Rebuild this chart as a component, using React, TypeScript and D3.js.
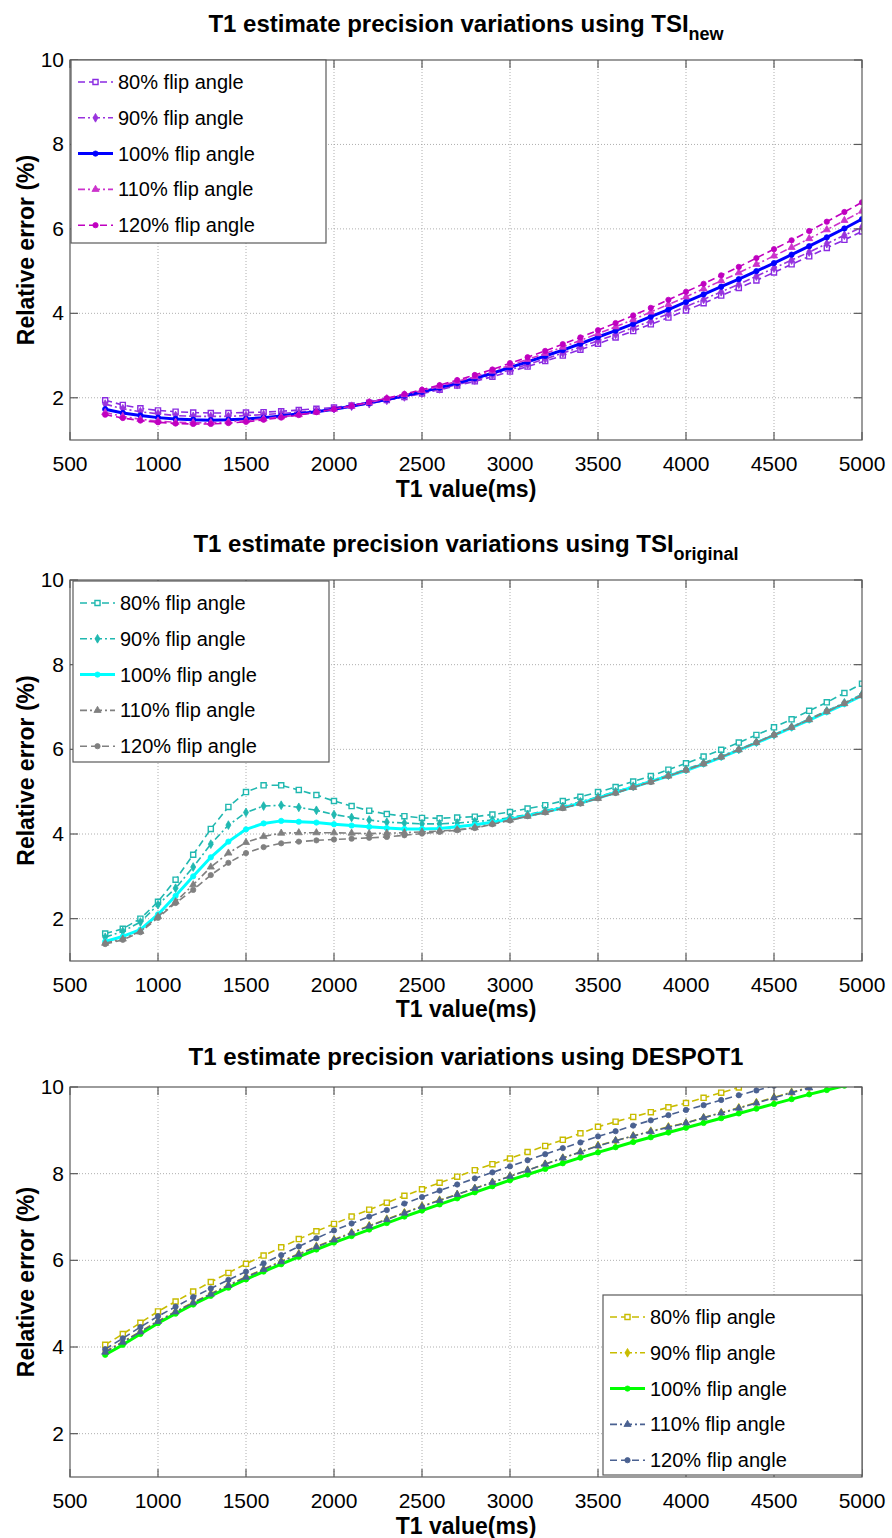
import React from "react";
import * as d3 from "d3";

// T1 values (ms), one point every 100 ms
const t1Values = [
  700, 800, 900, 1000, 1100, 1200, 1300, 1400, 1500, 1600, 1700, 1800, 1900, 2000, 2100,
  2200, 2300, 2400, 2500, 2600, 2700, 2800, 2900, 3000, 3100, 3200, 3300, 3400, 3500, 3600,
  3700, 3800, 3900, 4000, 4100, 4200, 4300, 4400, 4500, 4600, 4700, 4800, 4900, 5000,
];

const seriesLabels = ["80% flip angle", "90% flip angle", "100% flip angle", "110% flip angle", "120% flip angle"];
const xTicks = [500, 1000, 1500, 2000, 2500, 3000, 3500, 4000, 4500, 5000];
const yTicks = [2, 4, 6, 8, 10];

// TSI new
const new80 = [1.94, 1.83, 1.75, 1.7, 1.67, 1.65, 1.64, 1.64, 1.65, 1.66, 1.68, 1.71, 1.74, 1.77, 1.82, 1.88, 1.95, 2.02, 2.1, 2.19, 2.29, 2.39, 2.5, 2.62, 2.74, 2.87, 3.0, 3.14, 3.28, 3.43, 3.58, 3.74, 3.9, 4.07, 4.24, 4.42, 4.6, 4.78, 4.97, 5.16, 5.35, 5.55, 5.74, 5.94];
const new90 = [1.85, 1.74, 1.67, 1.62, 1.58, 1.56, 1.56, 1.56, 1.58, 1.6, 1.63, 1.66, 1.7, 1.74, 1.8, 1.86, 1.94, 2.02, 2.11, 2.21, 2.31, 2.42, 2.54, 2.66, 2.79, 2.92, 3.06, 3.2, 3.35, 3.5, 3.66, 3.82, 3.99, 4.16, 4.33, 4.51, 4.69, 4.88, 5.07, 5.26, 5.45, 5.65, 5.85, 6.04];
const new100 = [1.73, 1.64, 1.58, 1.53, 1.5, 1.48, 1.47, 1.48, 1.5, 1.53, 1.57, 1.62, 1.67, 1.73, 1.8, 1.88, 1.96, 2.05, 2.14, 2.24, 2.35, 2.46, 2.58, 2.72, 2.85, 2.99, 3.13, 3.28, 3.44, 3.59, 3.75, 3.92, 4.09, 4.27, 4.45, 4.63, 4.81, 5.0, 5.19, 5.39, 5.59, 5.8, 6.01, 6.23];
const new110 = [1.65, 1.56, 1.49, 1.45, 1.42, 1.41, 1.41, 1.43, 1.46, 1.5, 1.55, 1.6, 1.66, 1.73, 1.8, 1.89, 1.98, 2.07, 2.17, 2.27, 2.39, 2.5, 2.63, 2.77, 2.91, 3.05, 3.2, 3.36, 3.52, 3.68, 3.85, 4.03, 4.21, 4.39, 4.58, 4.77, 4.96, 5.16, 5.36, 5.56, 5.77, 5.98, 6.2, 6.42];
const new120 = [1.6, 1.52, 1.46, 1.42, 1.39, 1.38, 1.38, 1.4, 1.43, 1.48, 1.53, 1.59, 1.66, 1.73, 1.81, 1.9, 1.99, 2.09, 2.19, 2.3, 2.42, 2.54, 2.67, 2.82, 2.96, 3.11, 3.27, 3.43, 3.6, 3.77, 3.95, 4.13, 4.32, 4.51, 4.7, 4.9, 5.1, 5.31, 5.52, 5.73, 5.95, 6.17, 6.4, 6.63];

// TSI original
const orig80 = [1.65, 1.76, 2.0, 2.4, 2.92, 3.51, 4.12, 4.64, 4.99, 5.15, 5.15, 5.04, 4.92, 4.78, 4.66, 4.55, 4.47, 4.42, 4.38, 4.37, 4.39, 4.41, 4.46, 4.52, 4.6, 4.68, 4.78, 4.88, 4.99, 5.11, 5.24, 5.37, 5.52, 5.67, 5.83, 5.99, 6.16, 6.34, 6.52, 6.71, 6.91, 7.11, 7.33, 7.55];
const orig90 = [1.56, 1.7, 1.92, 2.33, 2.72, 3.22, 3.76, 4.21, 4.51, 4.66, 4.68, 4.63, 4.56, 4.46, 4.39, 4.33, 4.28, 4.26, 4.24, 4.24, 4.26, 4.29, 4.33, 4.39, 4.46, 4.55, 4.65, 4.76, 4.88, 5.0, 5.13, 5.26, 5.39, 5.53, 5.68, 5.84, 6.0, 6.17, 6.35, 6.53, 6.72, 6.91, 7.1, 7.3];
const orig100 = [1.46, 1.58, 1.74, 2.1, 2.54, 3.0, 3.45, 3.82, 4.11, 4.25, 4.31, 4.29, 4.27, 4.23, 4.2, 4.17, 4.14, 4.12, 4.12, 4.13, 4.17, 4.22, 4.28, 4.35, 4.43, 4.52, 4.62, 4.73, 4.85, 4.98, 5.11, 5.24, 5.37, 5.5, 5.65, 5.81, 5.98, 6.15, 6.33, 6.51, 6.69, 6.88, 7.07, 7.27];
const orig110 = [1.42, 1.52, 1.7, 2.05, 2.4, 2.8, 3.22, 3.55, 3.8, 3.94, 4.02, 4.03, 4.03, 4.03, 4.02, 4.01, 4.02, 4.03, 4.05, 4.07, 4.1, 4.15, 4.24, 4.33, 4.42, 4.51, 4.61, 4.72, 4.84, 4.97, 5.1, 5.23, 5.37, 5.51, 5.66, 5.82, 5.99, 6.16, 6.34, 6.52, 6.7, 6.89, 7.08, 7.27];
const orig120 = [1.4, 1.5, 1.68, 2.02, 2.37, 2.68, 3.03, 3.32, 3.55, 3.69, 3.78, 3.82, 3.85, 3.87, 3.89, 3.91, 3.93, 3.97, 4.01, 4.05, 4.09, 4.14, 4.23, 4.32, 4.42, 4.51, 4.61, 4.72, 4.84, 4.97, 5.1, 5.23, 5.37, 5.51, 5.66, 5.82, 5.99, 6.16, 6.34, 6.52, 6.71, 6.9, 7.09, 7.28];

// DESPOT1 (curves leave the axes at 10)
const despot80 = [4.05, 4.3, 4.56, 4.82, 5.05, 5.28, 5.5, 5.71, 5.92, 6.11, 6.3, 6.49, 6.67, 6.84, 7.01, 7.17, 7.33, 7.49, 7.64, 7.79, 7.93, 8.08, 8.22, 8.35, 8.5, 8.64, 8.78, 8.93, 9.08, 9.2, 9.31, 9.42, 9.53, 9.63, 9.75, 9.87, 9.99, 10.11];
const despot90 = [3.9, 4.12, 4.36, 4.6, 4.82, 5.03, 5.23, 5.43, 5.62, 5.8, 5.98, 6.15, 6.32, 6.48, 6.64, 6.8, 6.95, 7.1, 7.25, 7.39, 7.52, 7.66, 7.8, 7.94, 8.08, 8.22, 8.36, 8.5, 8.65, 8.76, 8.87, 8.98, 9.08, 9.17, 9.29, 9.41, 9.52, 9.64, 9.76, 9.88, 9.99, 10.1];
const despot100 = [3.82, 4.05, 4.3, 4.55, 4.77, 4.98, 5.18, 5.37, 5.56, 5.74, 5.91, 6.08, 6.25, 6.41, 6.56, 6.71, 6.86, 7.01, 7.15, 7.29, 7.43, 7.57, 7.71, 7.85, 7.98, 8.11, 8.24, 8.37, 8.49, 8.61, 8.73, 8.84, 8.95, 9.06, 9.17, 9.28, 9.39, 9.5, 9.61, 9.72, 9.83, 9.93, 10.03];
const despot110 = [3.88, 4.11, 4.35, 4.59, 4.81, 5.02, 5.22, 5.42, 5.61, 5.79, 5.97, 6.14, 6.31, 6.47, 6.63, 6.79, 6.94, 7.09, 7.24, 7.38, 7.52, 7.66, 7.8, 7.94, 8.08, 8.22, 8.36, 8.5, 8.64, 8.76, 8.87, 8.97, 9.07, 9.17, 9.29, 9.4, 9.51, 9.63, 9.75, 9.87, 9.98, 10.09];
const despot120 = [3.95, 4.2, 4.46, 4.71, 4.93, 5.15, 5.35, 5.55, 5.74, 5.93, 6.12, 6.32, 6.51, 6.69, 6.85, 7.01, 7.16, 7.31, 7.46, 7.61, 7.75, 7.89, 8.03, 8.17, 8.31, 8.45, 8.59, 8.72, 8.86, 8.98, 9.11, 9.23, 9.35, 9.47, 9.58, 9.7, 9.81, 9.92, 10.03];

const FONT = "'Liberation Sans', Arial, Helvetica, sans-serif";
const W = 892;
const H = 1538;

type Marker = "square" | "diamond" | "circle" | "triangle";
type Style = { color: string; dash: string; width: number; marker: Marker; open?: boolean };

const DASH = "7,4";
const DASHDOT = "7,3,2,3";

const panels = [
  {
    id: "p1",
    title: "T1 estimate precision variations using TSI",
    sub: "new",
    top: 60,
    bottom: 440,
    titleY: 32,
    xLabelY: 497,
    legend: { x: 71, y: 60, w: 255, h: 183 },
    data: [new80, new90, new100, new110, new120],
    styles: [
      { color: "#8a2be2", dash: DASH, width: 1.6, marker: "square", open: true },
      { color: "#9933dd", dash: DASHDOT, width: 1.6, marker: "diamond" },
      { color: "#0000ff", dash: "", width: 3, marker: "circle" },
      { color: "#cc33cc", dash: DASHDOT, width: 1.6, marker: "triangle" },
      { color: "#c000c0", dash: DASH, width: 1.6, marker: "circle" },
    ] as Style[],
  },
  {
    id: "p2",
    title: "T1 estimate precision variations using TSI",
    sub: "original",
    top: 580,
    bottom: 961,
    titleY: 552,
    xLabelY: 1017,
    legend: { x: 73, y: 581, w: 256, h: 181 },
    data: [orig80, orig90, orig100, orig110, orig120],
    styles: [
      { color: "#20b8b0", dash: DASH, width: 1.6, marker: "square", open: true },
      { color: "#20b8b0", dash: DASHDOT, width: 1.6, marker: "diamond" },
      { color: "#00ffff", dash: "", width: 3, marker: "circle" },
      { color: "#808080", dash: DASHDOT, width: 1.6, marker: "triangle" },
      { color: "#808080", dash: DASH, width: 1.6, marker: "circle" },
    ] as Style[],
  },
  {
    id: "p3",
    title: "T1 estimate precision variations using DESPOT1",
    sub: "",
    top: 1087,
    bottom: 1477,
    titleY: 1065,
    xLabelY: 1534,
    legend: { x: 603, y: 1295, w: 259, h: 180 },
    data: [despot80, despot90, despot100, despot110, despot120],
    styles: [
      { color: "#c8bc00", dash: DASH, width: 1.6, marker: "square", open: true },
      { color: "#c8bc00", dash: DASHDOT, width: 1.6, marker: "diamond" },
      { color: "#00ff00", dash: "", width: 3, marker: "circle" },
      { color: "#4a6191", dash: DASHDOT, width: 1.6, marker: "triangle" },
      { color: "#4a6191", dash: DASH, width: 1.6, marker: "circle" },
    ] as Style[],
  },
];

const symbolFor: Record<Marker, d3.SymbolType> = {
  square: d3.symbolSquare,
  diamond: d3.symbolDiamond,
  circle: d3.symbolCircle,
  triangle: d3.symbolTriangle,
};

const MarkerShape = ({ s, x, y }: { s: Style; x: number; y: number }) => {
  const size = s.marker === "square" ? 26 : 22;
  const path = d3.symbol().type(symbolFor[s.marker]).size(size)() as string;
  return (
    <path
      d={path}
      transform={`translate(${x},${y})`}
      fill={s.open ? "white" : s.color}
      stroke={s.color}
      strokeWidth={s.open ? 1.4 : 0.8}
    />
  );
};

const Panel = ({ p }: { p: (typeof panels)[number] }) => {
  const left = 70;
  const right = 862;
  const x = d3.scaleLinear().domain([500, 5000]).range([left, right]);
  const y = d3.scaleLinear().domain([1, 10]).range([p.bottom, p.top]);
  const line = d3
    .line<number>()
    .x((_, i) => x(t1Values[i]))
    .y((d) => y(d));
  const mid = (left + right) / 2;
  const axisColor = "#5a5a5a";

  return (
    <g>
      <defs>
        <clipPath id={`clip-${p.id}`}>
          <rect x={left} y={p.top} width={right - left} height={p.bottom - p.top} />
        </clipPath>
      </defs>
      <rect x={left} y={p.top} width={right - left} height={p.bottom - p.top} fill="white" />

      {/* grid */}
      {xTicks.slice(1, -1).map((t) => (
        <line key={`gx${t}`} x1={x(t)} x2={x(t)} y1={p.top} y2={p.bottom} stroke="#9a9a9a" strokeWidth={0.8} strokeDasharray="1,2" />
      ))}
      {yTicks.slice(0, -1).map((t) => (
        <line key={`gy${t}`} x1={left} x2={right} y1={y(t)} y2={y(t)} stroke="#9a9a9a" strokeWidth={0.8} strokeDasharray="1,2" />
      ))}

      {/* series */}
      <g clipPath={`url(#clip-${p.id})`}>
        {p.data.map((vals, si) => {
          const s = p.styles[si];
          return (
            <g key={si}>
              <path d={line(vals) as string} fill="none" stroke={s.color} strokeWidth={s.width} strokeDasharray={s.dash || undefined} strokeLinejoin="round" />
              {vals.map((v, i) => (
                <MarkerShape key={i} s={s} x={x(t1Values[i])} y={y(v)} />
              ))}
            </g>
          );
        })}
      </g>

      {/* box + ticks */}
      <rect x={left} y={p.top} width={right - left} height={p.bottom - p.top} fill="none" stroke={axisColor} strokeWidth={1.2} />
      {xTicks.map((t) => (
        <g key={`tx${t}`}>
          <line x1={x(t)} x2={x(t)} y1={p.bottom} y2={p.bottom - 8} stroke={axisColor} strokeWidth={1.2} />
          <line x1={x(t)} x2={x(t)} y1={p.top} y2={p.top + 8} stroke={axisColor} strokeWidth={1.2} />
          <text x={x(t)} y={p.bottom + 31} textAnchor="middle" fontSize={21} fontFamily={FONT} fill="#000">
            {t}
          </text>
        </g>
      ))}
      {yTicks.map((t) => (
        <g key={`ty${t}`}>
          <line x1={left} x2={left + 8} y1={y(t)} y2={y(t)} stroke={axisColor} strokeWidth={1.2} />
          <line x1={right} x2={right - 8} y1={y(t)} y2={y(t)} stroke={axisColor} strokeWidth={1.2} />
          <text x={64} y={y(t) + 7} textAnchor="end" fontSize={21} fontFamily={FONT} fill="#000">
            {t}
          </text>
        </g>
      ))}

      {/* titles */}
      <text x={mid} y={p.titleY} textAnchor="middle" fontSize={24} fontWeight="bold" fontFamily={FONT}>
        {p.title}
        {p.sub && (
          <tspan fontSize={18} dy={8}>
            {p.sub}
          </tspan>
        )}
      </text>
      <text x={mid} y={p.xLabelY} textAnchor="middle" fontSize={23} fontWeight="bold" fontFamily={FONT}>
        T1 value(ms)
      </text>
      <text
        transform={`translate(34,${(p.top + p.bottom) / 2}) rotate(-90)`}
        textAnchor="middle"
        fontSize={23}
        fontWeight="bold"
        fontFamily={FONT}
      >
        Relative error (%)
      </text>

      {/* legend */}
      <rect x={p.legend.x} y={p.legend.y} width={p.legend.w} height={p.legend.h} fill="white" stroke={axisColor} strokeWidth={1.2} />
      {seriesLabels.map((lab, i) => {
        const s = p.styles[i];
        const ry = p.legend.y + 22 + i * 35.8;
        const lx0 = p.legend.x + 7;
        const lx1 = p.legend.x + 42;
        return (
          <g key={lab}>
            <line x1={lx0} x2={lx1} y1={ry} y2={ry} stroke={s.color} strokeWidth={s.width} strokeDasharray={s.dash || undefined} />
            <MarkerShape s={s} x={(lx0 + lx1) / 2} y={ry} />
            <text x={p.legend.x + 47} y={ry + 7} fontSize={20} fontFamily={FONT} fill="#000">
              {lab}
            </text>
          </g>
        );
      })}
    </g>
  );
};

export default function App() {
  return (
    <svg width={W} height={H} style={{ position: "absolute", left: 0, top: 0, background: "white" }}>
      <rect width={W} height={H} fill="white" />
      {panels.map((p) => (
        <Panel key={p.id} p={p} />
      ))}
    </svg>
  );
}
